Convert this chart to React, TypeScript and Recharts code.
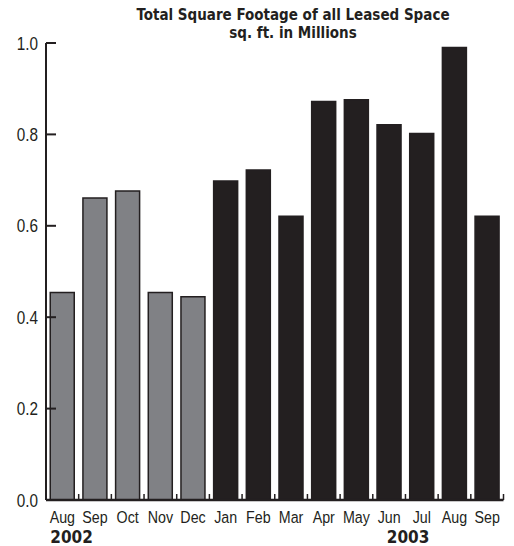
import React from 'react';
import { BarChart, Bar, XAxis, YAxis, Cell } from 'recharts';

const months = ['Aug', 'Sep', 'Oct', 'Nov', 'Dec', 'Jan', 'Feb', 'Mar', 'Apr', 'May', 'Jun', 'Jul', 'Aug', 'Sep'];
const footage = [0.454, 0.661, 0.676, 0.454, 0.445, 0.698, 0.722, 0.621, 0.872, 0.876, 0.821, 0.802, 0.99, 0.621];
const yearOf = [2002, 2002, 2002, 2002, 2002, 2003, 2003, 2003, 2003, 2003, 2003, 2003, 2003, 2003];
const yearLabels: { [k: number]: string } = { 0: '2002', 11: '2003' };
const yTicks = [0, 0.2, 0.4, 0.6, 0.8, 1.0];
const titleLines = ['Total Square Footage of all Leased Space', 'sq. ft. in Millions'];

const data = months.map((m, i) => ({ key: `${m}-${yearOf[i]}`, month: m, value: footage[i], year: yearOf[i] }));

const INK = '#231f20';
const GRAY = '#808185';
const THIN = '"Liberation Sans", Arial, sans-serif';
const BOLD = '"DejaVu Sans Condensed", "DejaVu Sans", sans-serif';

const XTick = (props: any) => {
  const { x, y, payload, index } = props;
  const half = payload && payload.offset ? payload.offset : 16.34;
  const i = payload.index ?? index;
  const label = months[i];
  const yr = yearLabels[i];
  return (
    <g>
      {i === 0 && <line x1={x - half} x2={x - half} y1={y} y2={y - 6} stroke={INK} strokeWidth={1.5} />}
      <line x1={x + half} x2={x + half} y1={y} y2={y - 6} stroke={INK} strokeWidth={1.5} />
      <text transform={`translate(${x},${y + 22.5}) scale(0.84,1)`} x={0} y={0} textAnchor="middle" fontSize={17} fill={INK} fontFamily={THIN}>{label}</text>
      {yr && (
        <text x={i === 0 ? x - 12 : x - 35} y={y + 43} textAnchor="start" fontSize={17} fontWeight="bold" fill={INK} fontFamily={BOLD}>{yr}</text>
      )}
    </g>
  );
};

const YTick = (props: any) => {
  const { x, y, payload } = props;
  return (
    <g>
      <line x1={x + 8} x2={x + 18} y1={y} y2={y} stroke={INK} strokeWidth={2} />
      <text transform={`translate(${x},${y + 6.5}) scale(0.85,1)`} x={0} y={0} textAnchor="end" fontSize={18} fill={INK} fontFamily={THIN}>{payload.value.toFixed(1)}</text>
    </g>
  );
};

export default function App() {
  return (
    <div style={{ position: 'absolute', left: 0, top: 0, width: 514, height: 546, background: '#fff' }}>
      <div style={{ position: 'absolute', left: 123, width: 340, top: 6, textAlign: 'center', fontFamily: BOLD, fontWeight: 'bold', fontSize: 15, lineHeight: '18px', color: INK }}>
        <div>{titleLines[0]}</div>
        <div>{titleLines[1]}</div>
      </div>
      <BarChart
        width={514}
        height={546}
        data={data}
        margin={{ top: 43, right: 10.5, left: 0, bottom: 0 }}
        barCategoryGap="13%"
      >
        <XAxis
          dataKey="key"
          height={46}
          interval={0}
          axisLine={{ stroke: INK, strokeWidth: 2.5 }}
          tickLine={false}
          tickSize={0}
          tickMargin={0}
          tick={<XTick />}
        />
        <YAxis
          width={46}
          domain={[0, 1]}
          ticks={yTicks}
          interval={0}
          axisLine={{ stroke: INK, strokeWidth: 2 }}
          tickLine={false}
          tickSize={0}
          tickMargin={8}
          tick={<YTick />}
        />
        <Bar dataKey="value" isAnimationActive={false} stroke={INK} strokeWidth={1.5}>
          {data.map((d, i) => (
            <Cell key={d.key} fill={d.year === 2002 ? GRAY : INK} />
          ))}
        </Bar>
      </BarChart>
    </div>
  );
}
